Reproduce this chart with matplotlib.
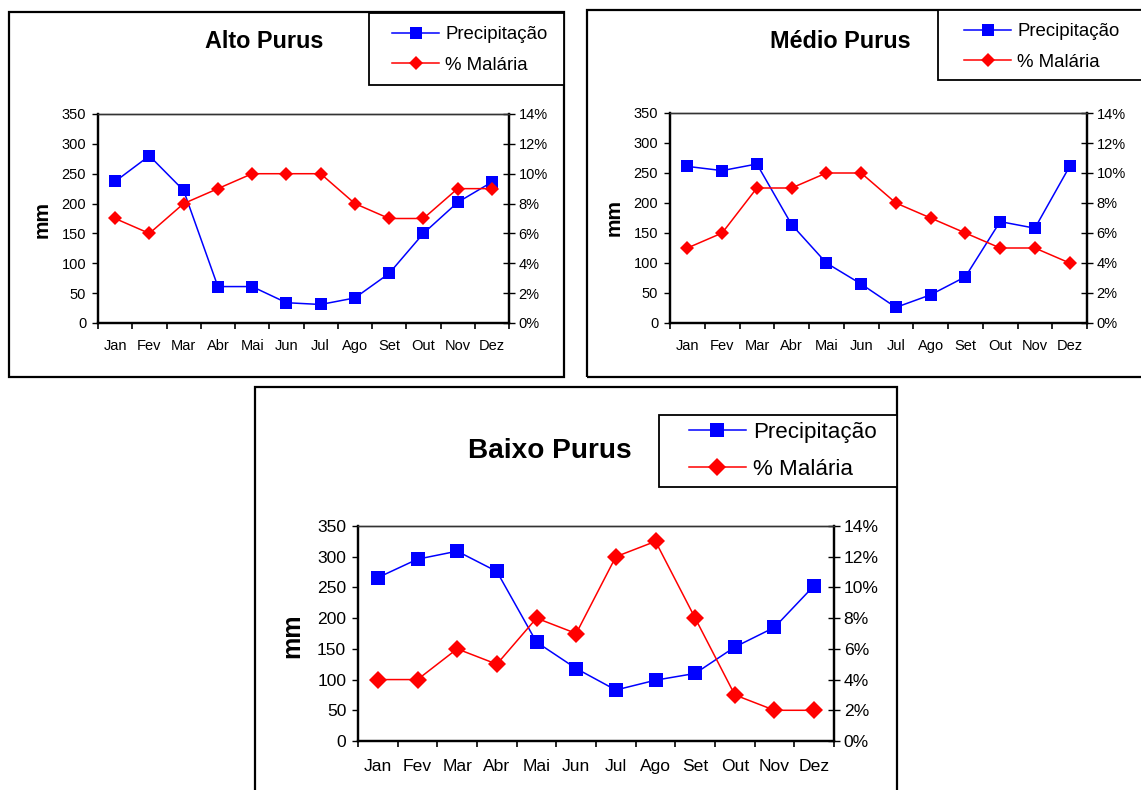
import matplotlib
matplotlib.use("Agg")
import matplotlib.pyplot as plt
from matplotlib.patches import Rectangle
from matplotlib.lines import Line2D
from matplotlib.ticker import FixedLocator, FuncFormatter, NullFormatter
from matplotlib.transforms import blended_transform_factory, ScaledTranslation

plt.rcParams['font.family'] = ['Liberation Sans', 'DejaVu Sans']

months = ["Jan", "Fev", "Mar", "Abr", "Mai", "Jun", "Jul", "Ago", "Set", "Out", "Nov", "Dez"]

alto_precip = [237, 280, 222, 61, 61, 34, 31, 42, 83, 150, 202, 236]
alto_malaria = [7, 6, 8, 9, 10, 10, 10, 8, 7, 7, 9, 9]

medio_precip = [261, 254, 265, 164, 100, 65, 26, 47, 77, 169, 158, 261]
medio_malaria = [5, 6, 9, 9, 10, 10, 8, 7, 6, 5, 5, 4]

baixo_precip = [266, 296, 309, 276, 161, 118, 83, 99, 110, 153, 185, 253]
baixo_malaria = [4, 4, 6, 5, 8, 7, 12, 13, 8, 3, 2, 2]

W, H = 1141, 790
fig = plt.figure(figsize=(W / 100, H / 100), dpi=100)
fig.patch.set_facecolor("white")


def fx(px):
    return px / W


def fy(py):
    return 1 - py / H


def panel(title, precip, malaria, outer, plot, title_xy, legend_box,
          legend_anchor, mm_xy, s, month_fs, month_drop):
    # s: scale factor for text and markers
    ox0, oy0, ox1, oy1 = outer
    fig.add_artist(Rectangle((fx(ox0), fy(oy1)), fx(ox1 - ox0), (oy1 - oy0) / H,
                             transform=fig.transFigure, fill=False,
                             edgecolor="black", linewidth=1.6, zorder=0))
    px0, py0, px1, py1 = plot
    ax = fig.add_axes([fx(px0), fy(py1), fx(px1 - px0), (py1 - py0) / H])
    ax2 = ax.twinx()
    x = list(range(len(months)))

    ax.plot(x, precip, color="#0000FF", marker="s", markersize=8.6 * s,
            linewidth=1.1, markeredgewidth=0, zorder=3, clip_on=False)
    ax2.plot(x, malaria, color="#FF0000", marker="D", markersize=7.4 * s,
             linewidth=1.1, markeredgewidth=0, zorder=3, clip_on=False)

    ax.set_xlim(-0.5, len(months) - 0.5)
    ax.set_ylim(0, 350)
    ax2.set_ylim(0, 14)
    ax.set_yticks(range(0, 351, 50))
    ax2.set_yticks(range(0, 15, 2))
    ax2.yaxis.set_major_formatter(FuncFormatter(lambda v, p: f"{int(v)}%"))

    # tick marks between months, month names centred under each point
    ax.xaxis.set_major_locator(FixedLocator([i - 0.5 for i in range(len(months) + 1)]))
    ax.xaxis.set_major_formatter(NullFormatter())
    trans = blended_transform_factory(ax.transData, ax.transAxes) + \
        ScaledTranslation(0, -month_drop / 100, fig.dpi_scale_trans)
    for xi, m in zip(x, months):
        ax.text(xi, 0, m, transform=trans, ha="center", va="baseline",
                fontsize=month_fs)

    fs = 10.5 * s
    ax.tick_params(axis="x", which="major", direction="out", length=4, width=1.2)
    ax.tick_params(axis="y", direction="out", length=4, width=1.0, pad=4.5, labelsize=fs)
    ax2.tick_params(axis="y", direction="inout", length=8, width=1.0, pad=3, labelsize=fs)

    for a in (ax, ax2):
        for side in ("left", "right", "bottom"):
            a.spines[side].set_linewidth(1.6)
            a.spines[side].set_color("black")
        a.spines["top"].set_linewidth(1.0)
        a.spines["top"].set_color("#333333")
    ax2.set_zorder(ax.get_zorder() + 1)
    ax.patch.set_visible(False)

    fig.text(fx(mm_xy[0]), fy(mm_xy[1]), "mm", rotation=90, fontsize=15 * s,
             fontweight="bold", ha="center", va="center")
    fig.text(fx(title_xy[0]), fy(title_xy[1]), title, fontsize=16.8 * s,
             fontweight="bold", ha="center", va="center")

    lx0, ly0, lx1, ly1 = legend_box
    fig.add_artist(Rectangle((fx(lx0), fy(ly1)), fx(lx1 - lx0), (ly1 - ly0) / H,
                             transform=fig.transFigure, facecolor="white",
                             edgecolor="black", linewidth=1.3, zorder=1))
    handles = [
        Line2D([], [], color="#0000FF", marker="s", markersize=8.6 * s,
               markeredgewidth=0, linewidth=1.1),
        Line2D([], [], color="#FF0000", marker="D", markersize=7.4 * s,
               markeredgewidth=0, linewidth=1.1),
    ]
    leg = fig.legend(handles, ["Precipitação", "% Malária"], loc="center left",
                     bbox_to_anchor=(fx(legend_anchor[0]), fy(legend_anchor[1])),
                     frameon=False, fontsize=13.4 * s, handlelength=2.55,
                     handletextpad=0.3, labelspacing=0.7, borderpad=0,
                     borderaxespad=0)
    leg.set_zorder(2)


panel("Alto Purus", alto_precip, alto_malaria,
      outer=(9, 12, 564, 377), plot=(98, 114, 509, 323),
      title_xy=(264, 42), legend_box=(369, 13, 564, 85),
      legend_anchor=(392, 50), mm_xy=(42, 220), s=1.0,
      month_fs=10.5, month_drop=27)

panel("Médio Purus", medio_precip, medio_malaria,
      outer=(587, 10, 1160, 377), plot=(670, 113, 1087, 323),
      title_xy=(840, 42), legend_box=(938, 10, 1160, 80),
      legend_anchor=(964, 47), mm_xy=(614, 218), s=1.0,
      month_fs=10.5, month_drop=27)

panel("Baixo Purus", baixo_precip, baixo_malaria,
      outer=(255, 387, 897, 810), plot=(358, 526, 834, 741),
      title_xy=(550, 451), legend_box=(659, 415, 897, 487),
      legend_anchor=(689, 451), mm_xy=(292, 636), s=1.2,
      month_fs=12.6, month_drop=30)

fig.savefig("out.png", dpi=100, facecolor="white")
